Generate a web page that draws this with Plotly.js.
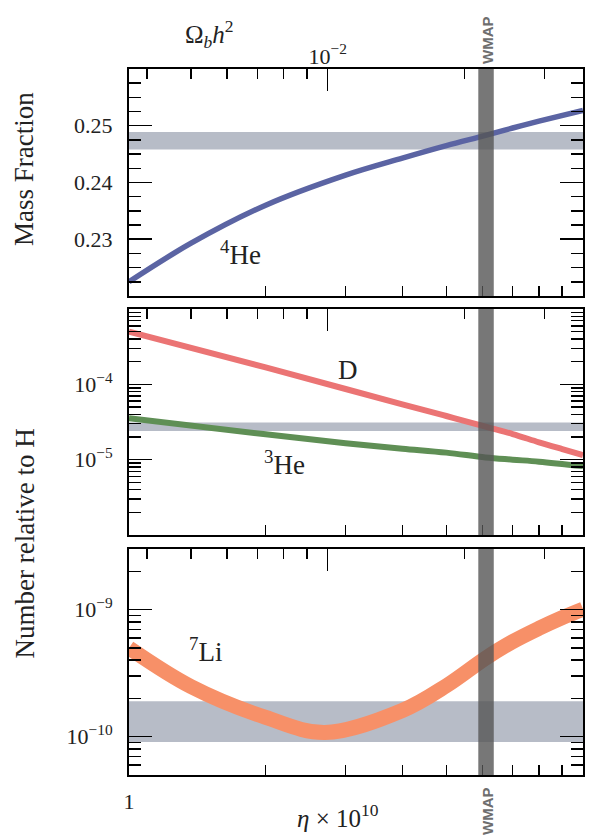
<!DOCTYPE html>
<html>
<head>
<meta charset="utf-8">
<script src="https://cdn.plot.ly/plotly-3.0.1.min.js"></script>
<style>html,body{margin:0;padding:0;background:#fff;}#chart{width:593px;height:840px;}</style>
</head>
<body>
<div id="chart"></div>
<script>
// ---- data ----
const etaRange = [1, 10];
const etaPerOmega = 274;               // eta_10 = 274 * Omega_b h^2

const etaHe = [1, 1.37, 2, 3, 4, 5, 6.1, 7, 8, 10];
const yHe4  = [0.2225, 0.2293, 0.2360, 0.2413, 0.2443, 0.2465, 0.2483, 0.2496, 0.2508, 0.2527];

const etaD  = [1, 2, 3, 4, 5, 6.1, 7, 8, 9, 10];
const yD    = [5.0e-4, 1.68e-4, 8.67e-5, 5.43e-5, 3.80e-5, 2.74e-5, 2.19e-5, 1.70e-5, 1.38e-5, 1.15e-5];

const etaHe3 = [1, 2, 3, 4, 5, 6.1, 7, 8, 10];
const yHe3   = [3.54e-5, 2.17e-5, 1.65e-5, 1.40e-5, 1.24e-5, 1.07e-5, 1.00e-5, 9.4e-6, 8.2e-6];

const etaLi = [1, 1.37, 2, 2.7, 4, 5, 6.1, 7, 8, 9, 10];
const yLi   = [5.0e-10, 2.48e-10, 1.42e-10, 1.08e-10, 1.61e-10, 2.52e-10, 4.15e-10, 5.6e-10, 7.13e-10, 8.65e-10, 1.01e-9];

const bandHe4 = [0.2458, 0.2489];
const bandD   = [2.40e-5, 3.11e-5];
const bandLi  = [0.91e-10, 1.90e-10];
const wmapEta = [5.88, 6.36];

// tick labels
const etaMajor = [1, 10];
const etaMajorText = ['1', '10'];
const etaMinor = [2, 3, 4, 5, 6, 7, 8, 9];
const omegaMajor = [0.01];
const omegaMajorText = ['10<sup>\u22122</sup>'];
const omegaMinor = [0.004, 0.005, 0.006, 0.007, 0.008, 0.009, 0.02, 0.03];
const heRange = [0.22, 0.26];
const heTicks = [0.23, 0.24, 0.25];
const heTickText = ['0.23', '0.24', '0.25'];
const heMinor = [0.2225, 0.225, 0.2275, 0.2325, 0.235, 0.2375, 0.2425, 0.245, 0.2475, 0.2525, 0.255, 0.2575];
const midRange = [1e-6, 1e-3];
const midTicks = [1e-5, 1e-4];
const midTickText = ['10<sup>\u22125</sup>', '10<sup>\u22124</sup>'];
const midMinor = [2e-6,3e-6,4e-6,5e-6,6e-6,7e-6,8e-6,9e-6, 2e-5,3e-5,4e-5,5e-5,6e-5,7e-5,8e-5,9e-5, 2e-4,3e-4,4e-4,5e-4,6e-4,7e-4,8e-4,9e-4];
const liRange = [5e-11, 3e-9];
const liTicks = [1e-10, 1e-9];
const liTickText = ['10<sup>\u221210</sup>', '10<sup>\u22129</sup>'];
const liMinor = [5e-11,6e-11,7e-11,8e-11,9e-11, 2e-10,3e-10,4e-10,5e-10,6e-10,7e-10,8e-10,9e-10, 2e-9,3e-9];

// ---- styling ----
const SERIF = 'Liberation Serif, Times New Roman, serif';
const TXT = '#222';
const BAND = '#b7bcc7';
const WMAPC = 'rgba(85,85,85,0.8)';

const traces = [
  {x: etaHe, y: yHe4, xaxis: 'x', yaxis: 'y', mode: 'lines', line: {color: '#5b64a3', width: 5.5, shape: 'spline'}, hoverinfo: 'skip'},
  {x: etaD, y: yD, xaxis: 'x2', yaxis: 'y2', mode: 'lines', line: {color: '#eb7474', width: 6, shape: 'spline'}, hoverinfo: 'skip'},
  {x: etaHe3, y: yHe3, xaxis: 'x2', yaxis: 'y2', mode: 'lines', line: {color: '#5f8f55', width: 6, shape: 'spline'}, hoverinfo: 'skip'},
  {x: etaLi, y: yLi, xaxis: 'x3', yaxis: 'y3', mode: 'lines', line: {color: '#f79068', width: 15, shape: 'spline'}, hoverinfo: 'skip'},
  {x: [], y: [], xaxis: 'x4', yaxis: 'y', mode: 'lines', hoverinfo: 'skip'},
  {x: [], y: [], xaxis: 'x5', yaxis: 'y2', mode: 'lines', hoverinfo: 'skip'},
  {x: [], y: [], xaxis: 'x6', yaxis: 'y3', mode: 'lines', hoverinfo: 'skip'}
];

const logEta = etaRange.map(Math.log10);
const logOmega = etaRange.map(e => Math.log10(e / etaPerOmega));

function bottomAxis(anchor, labels) {
  return {
    anchor: anchor, type: 'log', range: logEta,
    tickmode: 'array', tickvals: etaMajor, ticktext: etaMajorText,
    showticklabels: labels, ticks: 'inside', ticklen: 10, tickwidth: 1.5, tickcolor: '#000',
    minor: {tickmode: 'array', tickvals: etaMinor, ticks: 'inside', ticklen: 10, tickwidth: 1.5, tickcolor: '#000', showgrid: false},
    showline: true, linewidth: 2, linecolor: '#000', mirror: true,
    showgrid: false, zeroline: false,
    tickfont: {family: SERIF, size: 22, color: TXT}, ticklabelstandoff: 6
  };
}
function topAxis(over, anchor, labels) {
  return {
    overlaying: over, anchor: anchor, side: 'top', type: 'log', range: logOmega,
    tickmode: 'array', tickvals: omegaMajor, ticktext: omegaMajorText,
    showticklabels: labels, ticks: 'inside', ticklen: 22, tickwidth: 1.5, tickcolor: '#000',
    minor: {tickmode: 'array', tickvals: omegaMinor, ticks: 'inside', ticklen: 10, tickwidth: 1.5, tickcolor: '#000', showgrid: false},
    showline: false, showgrid: false, zeroline: false,
    tickfont: {family: SERIF, size: 22, color: TXT}, ticklabelstandoff: 0
  };
}
function yAx(domain, anchor, type, range, tv, tt, minor) {
  return {
    domain: domain, anchor: anchor, type: type, range: range,
    tickmode: 'array', tickvals: tv, ticktext: tt,
    ticks: 'inside', ticklen: 23, tickwidth: 1.5, tickcolor: '#000',
    minor: {tickmode: 'array', tickvals: minor, ticks: 'inside', ticklen: 12, tickwidth: 1.5, tickcolor: '#000', showgrid: false},
    showline: true, linewidth: 2, linecolor: '#000', mirror: 'ticks',
    showgrid: false, zeroline: false,
    tickfont: {family: SERIF, size: 22, color: TXT}, ticklabelstandoff: 10
  };
}

const px = v => (v - 129) / 454;
const py = v => (775 - v) / 706;

function ann(x, y, text, size, extra) {
  return Object.assign({xref: 'paper', yref: 'paper', x: px(x), y: py(y), text: text, showarrow: false,
    xanchor: 'center', yanchor: 'middle', font: {family: SERIF, size: size, color: TXT}}, extra || {});
}
const wmapFont = {family: 'Liberation Sans, Arial, sans-serif', size: 15, color: '#6e6e6e'};

const layout = {
  width: 593, height: 840,
  margin: {l: 129, r: 10, t: 69, b: 65, pad: 0},
  paper_bgcolor: '#fff', plot_bgcolor: '#fff',
  showlegend: false,
  xaxis: bottomAxis('y', false),
  xaxis2: Object.assign(bottomAxis('y2', false), {matches: 'x'}),
  xaxis3: Object.assign(bottomAxis('y3', true), {matches: 'x'}),
  xaxis4: topAxis('x', 'y', true),
  xaxis5: topAxis('x2', 'y2', false),
  xaxis6: topAxis('x3', 'y3', false),
  yaxis: yAx([0.6785, 1], 'x', 'linear', heRange, heTicks, heTickText, heMinor),
  yaxis2: yAx([0.340, 0.660], 'x2', 'log', midRange.map(Math.log10), midTicks, midTickText, midMinor),
  yaxis3: yAx([0, 0.3201], 'x3', 'log', liRange.map(Math.log10), liTicks, liTickText, liMinor),
  shapes: [
    {type: 'rect', xref: 'x domain', yref: 'y', x0: 0, x1: 1, y0: bandHe4[0], y1: bandHe4[1], fillcolor: BAND, line: {width: 0}, layer: 'below'},
    {type: 'rect', xref: 'x2 domain', yref: 'y2', x0: 0, x1: 1, y0: bandD[0], y1: bandD[1], fillcolor: BAND, line: {width: 0}, layer: 'below'},
    {type: 'rect', xref: 'x3 domain', yref: 'y3', x0: 0, x1: 1, y0: bandLi[0], y1: bandLi[1], fillcolor: BAND, line: {width: 0}, layer: 'below'},
    {type: 'rect', xref: 'x', yref: 'y domain', x0: wmapEta[0], x1: wmapEta[1], y0: 0, y1: 1, fillcolor: WMAPC, line: {width: 0}, layer: 'above'},
    {type: 'rect', xref: 'x2', yref: 'y2 domain', x0: wmapEta[0], x1: wmapEta[1], y0: 0, y1: 1, fillcolor: WMAPC, line: {width: 0}, layer: 'above'},
    {type: 'rect', xref: 'x3', yref: 'y3 domain', x0: wmapEta[0], x1: wmapEta[1], y0: 0, y1: 1, fillcolor: WMAPC, line: {width: 0}, layer: 'above'}
  ],
  annotations: [
    ann(24, 169, 'Mass Fraction', 27, {textangle: -90}),
    ann(24, 543.5, 'Number relative to H', 27, {textangle: -90}),
    ann(209, 34, '\u03A9<sub><i>b</i></sub><i>h</i><sup>2</sup>', 25),
    ann(337.5, 816, '<i>\u03B7</i> \u00D7 10<sup>10</sup>', 25),
    ann(487, 40, '<b>WMAP</b>', 15, {textangle: -90, font: wmapFont}),
    ann(487, 811, '<b>WMAP</b>', 15, {textangle: -90, font: wmapFont}),
    ann(240, 253, '<sup>4</sup>He', 27),
    ann(348, 370, 'D', 27),
    ann(284, 463, '<sup>3</sup>He', 27),
    ann(205, 650, '<sup>7</sup>Li', 27)
  ]
};

Plotly.newPlot('chart', traces, layout, {staticPlot: true, displayModeBar: false});
</script>
</body>
</html>
